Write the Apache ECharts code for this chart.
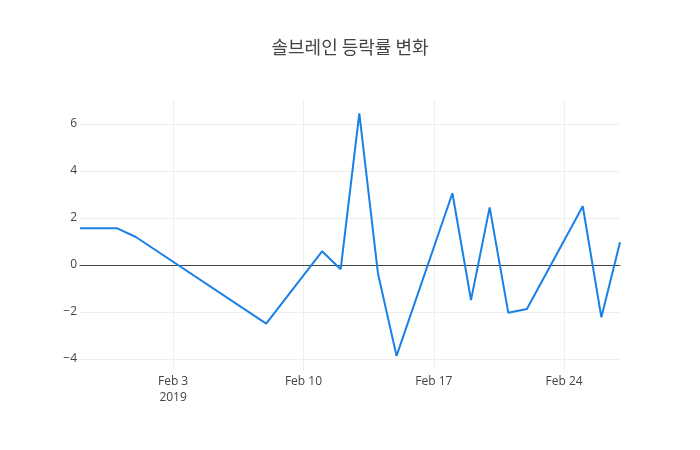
<!DOCTYPE html>
<html>
<head>
<meta charset="utf-8">
<script src="https://cdn.jsdelivr.net/npm/echarts@6/dist/echarts.min.js"></script>
<style>
  html, body { margin: 0; padding: 0; background: #fff; }
  #main { width: 700px; height: 450px; }
</style>
</head>
<body>
<div id="main"></div>
<script>
// trading days and daily change (%)
var dates = [
    '2019-01-29', '2019-01-31', '2019-02-01', '2019-02-08', '2019-02-11',
    '2019-02-12', '2019-02-13', '2019-02-14', '2019-02-15', '2019-02-18',
    '2019-02-19', '2019-02-20', '2019-02-21', '2019-02-22', '2019-02-25',
    '2019-02-26', '2019-02-27'
];
var changes = [
    1.56, 1.56, 1.19, -2.50, 0.58,
    -0.18, 6.45, -0.35, -3.87, 3.05,
    -1.49, 2.45, -2.03, -1.87, 2.50,
    -2.23, 0.97
];
var xTicks = ['2019-02-03', '2019-02-10', '2019-02-17', '2019-02-24'];
var yTicks = [-4, -2, 0, 2, 4, 6];

function toTime(s) {
    var p = s.split('-');
    return new Date(+p[0], +p[1] - 1, +p[2]).getTime();
}

var months = ['Jan', 'Feb', 'Mar', 'Apr', 'May', 'Jun', 'Jul', 'Aug', 'Sep', 'Oct', 'Nov', 'Dec'];
var xTickTimes = xTicks.map(toTime);

var myChart = echarts.init(document.getElementById('main'));
var option = {
    backgroundColor: '#fff',
    animation: false,
    title: {
        text: '솔브레인 등락률 변화',
        left: 'center',
        top: 33,
        textStyle: {
            fontFamily: 'Noto Sans CJK KR',
            fontSize: 18,
            fontWeight: 'normal',
            color: '#444'
        }
    },
    grid: { left: 80, right: 80, top: 100, bottom: 80 },
    xAxis: {
        type: 'value',
        min: toTime(dates[0]),
        max: toTime(dates[dates.length - 1]),
        axisLine: { show: true, onZero: true, lineStyle: { color: '#444', width: 1 } },
        axisTick: { show: false, customValues: xTickTimes },
        splitLine: { show: true, lineStyle: { color: '#eee', width: 1 } },
        axisLabel: {
            customValues: xTickTimes,
            color: '#444',
            fontFamily: 'Open Sans',
            fontSize: 12,
            margin: 4,
            lineHeight: 16,
            formatter: function (v) {
                var d = new Date(v);
                var s = months[d.getMonth()] + ' ' + d.getDate();
                if (v === xTickTimes[0]) s += '\n' + d.getFullYear();
                return s;
            }
        }
    },
    yAxis: {
        type: 'value',
        min: -4.47,
        max: 7.02,
        axisLine: { show: false },
        axisTick: { show: false, customValues: yTicks },
        splitLine: { show: true, lineStyle: { color: '#eee', width: 1 } },
        axisLabel: {
            customValues: yTicks,
            color: '#444',
            fontFamily: 'Open Sans',
            fontSize: 12,
            margin: 3,
            formatter: function (v) {
                return v < 0 ? '\u2212' + Math.abs(v) : String(v);
            }
        }
    },
    series: [
        {
            type: 'line',
            data: dates.map(function (d, i) { return [toTime(d), changes[i]]; }),
            showSymbol: false,
            symbol: 'none',
            lineStyle: { color: 'rgb(24,128,232)', width: 2 },
            itemStyle: { color: 'rgb(24,128,232)' }
        }
    ]
};

myChart.setOption(option);
</script>
</body>
</html>
